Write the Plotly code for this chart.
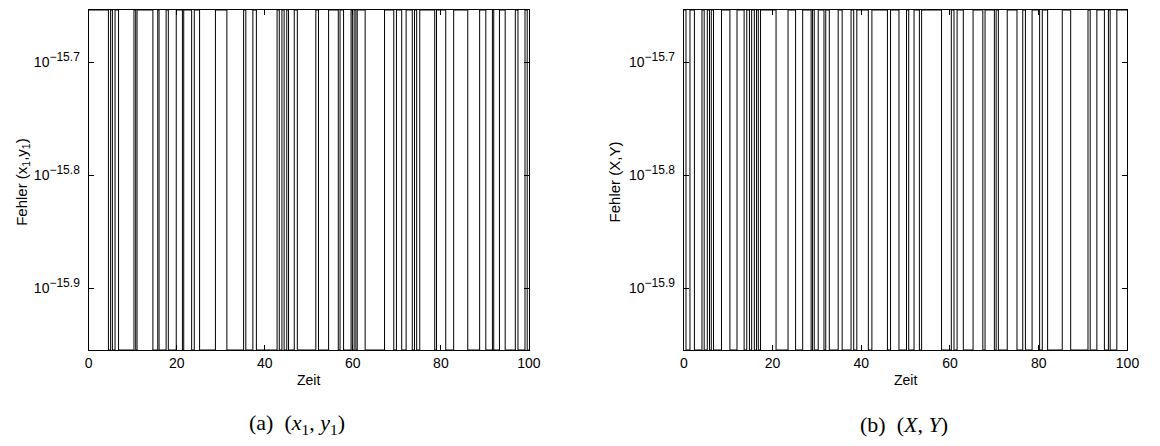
import math
import plotly.graph_objects as go

# ---- data -------------------------------------------------------------
eps = 2.220446049250313e-16
err_high = eps          # upper error level
err_low = eps / 2       # lower error level
t_start, t_end = 0, 100

# times (Zeit) at which the error switches between the two levels
switch_a = [4.5, 5.0, 5.4, 6.0, 6.8, 10.3, 10.7, 11.0, 14.6, 15.7, 16.0, 17.6, 18.1,
            19.9, 21.3, 21.6, 23.4, 24.0, 25.2, 28.8, 31.4, 35.2, 35.7, 37.3, 38.1,
            42.8, 43.3, 43.9, 44.4, 45.0, 45.4, 46.7, 47.4, 51.6, 52.2, 54.5, 56.7,
            57.1, 57.9, 59.6, 59.9, 60.3, 60.7, 61.0, 62.8, 67.2, 69.3, 69.9, 71.1,
            72.1, 73.5, 74.0, 74.5, 75.2, 78.6, 79.0, 81.1, 82.9, 86.1, 88.8, 90.2,
            91.7, 92.0, 93.3, 94.6, 96.9, 97.5, 99.1, 99.6]
switch_b = [0.5, 1.4, 2.4, 4.1, 4.6, 5.3, 5.8, 6.2, 6.7, 8.5, 10.4, 12.0, 13.6, 14.2,
            14.8, 15.3, 15.9, 16.4, 16.8, 17.3, 20.8, 23.5, 25.2, 26.8, 28.7, 29.0,
            29.4, 30.3, 31.6, 32.0, 32.8, 34.8, 35.7, 37.7, 38.3, 39.0, 41.6, 42.4,
            45.9, 46.6, 48.5, 50.2, 50.7, 51.9, 53.1, 53.6, 58.1, 60.3, 60.9, 61.6,
            63.0, 65.2, 67.4, 67.9, 70.0, 70.4, 70.9, 72.9, 75.1, 76.4, 77.0, 78.5,
            80.2, 80.8, 82.0, 85.3, 87.2, 91.1, 91.6, 93.1, 94.8, 95.7, 96.1, 97.6]

x_ticks = [0, 20, 40, 60, 80, 100]
y_tick_exps = [-15.9, -15.8, -15.7]
y_tick_labels = ["\u221215.9", "\u221215.8", "\u221215.7"]
y_titles = ["Fehler (x<sub>1</sub>,y<sub>1</sub>)", "Fehler (X,Y)"]
x_title = "Zeit"
captions = ["(a)&nbsp;&nbsp;(<i>x</i><sub>1</sub>, <i>y</i><sub>1</sub>)",
            "(b)&nbsp;&nbsp;(<i>X</i>, <i>Y</i>)"]


def step_series(switches):
    xs, ys = [t_start], [err_high]
    level = err_high
    for t in switches:
        other = err_low if level == err_high else err_high
        xs += [t, t]
        ys += [level, other]
        level = other
    xs.append(t_end)
    ys.append(level)
    return xs, ys


# the page body has an 8px margin: work in reference pixels, shifted by it
OFF = 8
W, H = 1160 - 2 * OFF, 446 - 2 * OFF


def px(x):
    return (x - OFF) / W


def py(y):
    return 1 - (y - OFF) / H


fig = go.Figure()
for i, sw in enumerate([switch_a, switch_b]):
    xs, ys = step_series(sw)
    fig.add_trace(go.Scatter(x=xs, y=ys, mode="lines",
                             line=dict(color="black", width=1),
                             xaxis="x" if i == 0 else "x2",
                             yaxis="y" if i == 0 else "y2",
                             showlegend=False, hoverinfo="skip"))

yr = [math.log10(err_low), math.log10(err_high)]
SANS = "Liberation Sans"
font = dict(family=SANS, size=14, color="black")
tick_text = ["10<sup><span style='font-size:12px'>%s</span></sup>" % s for s in y_tick_labels]

ax_common = dict(showline=True, linecolor="black", linewidth=1, mirror="ticks",
                 ticks="inside", ticklen=5, tickcolor="black", showgrid=False,
                 zeroline=False, tickfont=font)

top, bot = py(10), py(350)
fig.update_layout(
    width=W, height=H,
    margin=dict(l=0, r=0, t=0, b=0),
    paper_bgcolor="white", plot_bgcolor="white",
    font=dict(family=SANS, color="black"),
    xaxis=dict(domain=[px(85.7), px(532.3)], range=[0, 100], tickvals=x_ticks,
               anchor="y", **ax_common),
    yaxis=dict(domain=[bot, top], type="log", range=yr,
               tickvals=[10 ** e for e in y_tick_exps], ticktext=tick_text,
               anchor="x", ticklabelstandoff=5, **ax_common),
    xaxis2=dict(domain=[px(689.3), px(1139.3)], range=[0, 100], tickvals=x_ticks,
                anchor="y2", **ax_common),
    yaxis2=dict(domain=[bot, top], type="log", range=yr,
                tickvals=[10 ** e for e in y_tick_exps], ticktext=tick_text,
                anchor="x2", ticklabelstandoff=5, **ax_common),
)

ann = []
for xc, txt in zip([18, 619], y_titles):
    ann.append(dict(x=px(xc), y=py(182), xref="paper", yref="paper", text=txt,
                    textangle=-90, showarrow=False,
                    font=dict(family=SANS, size=15, color="black"),
                    xanchor="center", yanchor="middle"))
for xc in [309, 914]:
    ann.append(dict(x=px(xc), y=py(380), xref="paper", yref="paper", text=x_title,
                    showarrow=False,
                    font=dict(family=SANS, size=14, color="black"),
                    xanchor="center", yanchor="middle"))
for xc, txt in zip([297, 913], captions):
    ann.append(dict(x=px(xc), y=py(424), xref="paper", yref="paper", text=txt,
                    showarrow=False,
                    font=dict(family="Liberation Serif", size=22, color="black"),
                    xanchor="center", yanchor="middle"))
fig.update_layout(annotations=ann)

fig.write_html("out.html")
